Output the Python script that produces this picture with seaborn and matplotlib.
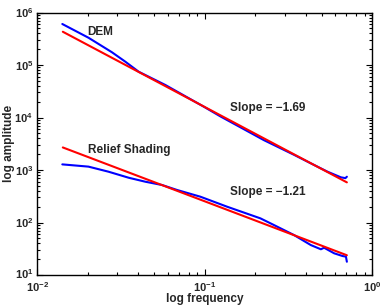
import matplotlib
matplotlib.use("Agg")
import matplotlib.pyplot as plt
import matplotlib.ticker as mticker
import matplotlib.transforms as mtransforms
import seaborn as sns
import pandas as pd

# ---- data ----
dem_freq = [0.0141, 0.0202, 0.0279, 0.0335, 0.0403, 0.0582, 0.0986, 0.124,
            0.164, 0.225, 0.341, 0.430, 0.541, 0.650, 0.692, 0.706]
dem_amp = [604000, 331000, 175000, 116000, 74500, 41600, 16100, 10500,
           6460, 3720, 1950, 1340, 929, 726, 700, 745]

relief_freq = [0.0141, 0.0202, 0.0266, 0.0351, 0.0442, 0.0556, 0.0684, 0.0942,
               0.136, 0.215, 0.259, 0.341, 0.430, 0.494, 0.516, 0.593, 0.665,
               0.697, 0.706]
relief_amp = [1280, 1160, 929, 713, 598, 518, 416, 310, 200, 120, 89.5, 57.8,
              37.2, 30.9, 33.1, 25.9, 23.0, 22.4, 17.9]

fit_freq = [0.0142, 0.706]
dem_fit_amp = [430000, 582]
relief_fit_amp = [2690, 23.8]

labels = ["DEM", "Relief Shading"]
slope_labels = ["Slope = \u22121.69", "Slope = \u22121.21"]

x_ticks = [1e-2, 1e-1, 1e0]
x_ticklabels = [r"$\mathdefault{10^{-2}}$", r"$\mathdefault{10^{-1}}$", r"$\mathdefault{10^{0}}$"]
y_ticks = [1e1, 1e2, 1e3, 1e4, 1e5, 1e6]
y_ticklabels = [r"$\mathdefault{10^{%d}}$" % k for k in range(1, 7)]

# ---- style ----
sns.set_style("ticks")
plt.rcParams["font.family"] = ["Liberation Sans", "DejaVu Sans"]
plt.rcParams["mathtext.fontset"] = "custom"
plt.rcParams["mathtext.rm"] = "Liberation Sans:bold"
plt.rcParams["mathtext.it"] = "Liberation Sans:bold"
plt.rcParams["mathtext.bf"] = "Liberation Sans:bold"
plt.rcParams["mathtext.default"] = "regular"

fig = plt.figure(figsize=(3.82, 3.08), dpi=100)
ax = fig.add_axes([0.0977, 0.1071, 0.9743 - 0.0977, 0.9594 - 0.1071])

df_dem = pd.DataFrame({"f": dem_freq, "a": dem_amp})
df_rel = pd.DataFrame({"f": relief_freq, "a": relief_amp})
df_dem_fit = pd.DataFrame({"f": fit_freq, "a": dem_fit_amp})
df_rel_fit = pd.DataFrame({"f": fit_freq, "a": relief_fit_amp})

lw = 1.5
sns.lineplot(data=df_dem, x="f", y="a", ax=ax, color="#0000ff", lw=lw, estimator=None, sort=False)
sns.lineplot(data=df_rel, x="f", y="a", ax=ax, color="#0000ff", lw=lw, estimator=None, sort=False)
sns.lineplot(data=df_dem_fit, x="f", y="a", ax=ax, color="#ff0000", lw=lw, estimator=None, sort=False)
sns.lineplot(data=df_rel_fit, x="f", y="a", ax=ax, color="#ff0000", lw=lw, estimator=None, sort=False)

ax.set_xscale("log")
ax.set_yscale("log")
ax.set_xlim(1e-2, 1e0)
ax.set_ylim(1e1, 1e6)

ax.set_xticks(x_ticks)
ax.set_xticklabels(x_ticklabels)
ax.set_yticks(y_ticks)
ax.set_yticklabels(y_ticklabels)
ax.xaxis.set_minor_locator(mticker.LogLocator(base=10, subs=range(2, 10), numticks=20))
ax.yaxis.set_minor_locator(mticker.LogLocator(base=10, subs=range(2, 10), numticks=20))
ax.xaxis.set_minor_formatter(mticker.NullFormatter())
ax.yaxis.set_minor_formatter(mticker.NullFormatter())

ax.tick_params(which="both", direction="in", top=True, right=True, width=0.8, color="black")
ax.tick_params(which="major", length=4, labelsize=8)
ax.tick_params(axis="x", which="major", pad=3.5)
ax.tick_params(axis="y", which="major", pad=3)
ax.tick_params(which="minor", length=2)
for lab in ax.get_xticklabels() + ax.get_yticklabels():
    lab.set_fontweight("bold")

# nudge the lowest y tick label up a little so it does not touch 10^-2
ylabs = ax.get_yticklabels()
ylabs[0].set_transform(ylabs[0].get_transform() +
                       mtransforms.ScaledTranslation(0, 2 / 100, fig.dpi_scale_trans))

for s in ax.spines.values():
    s.set_linewidth(1.0)
    s.set_color("black")
    s.set_visible(True)

ax.set_xlabel("log frequency", fontsize=8.5, fontweight="bold")
ax.set_ylabel("log amplitude", fontsize=8.5, fontweight="bold")
ax.xaxis.set_label_coords(0.5, -0.067)
ax.yaxis.set_label_coords(-0.066, 0.5)

tkw = dict(fontsize=8.5, fontweight="bold", ha="left", va="center")
ax.text(0.020, 4.3e5, labels[0], **tkw)
ax.text(0.020, 2400, labels[1], **tkw)
ax.text(0.141, 15000, slope_labels[0], **tkw)
ax.text(0.141, 386, slope_labels[1], **tkw)

fig.savefig("out.png", dpi=100)
